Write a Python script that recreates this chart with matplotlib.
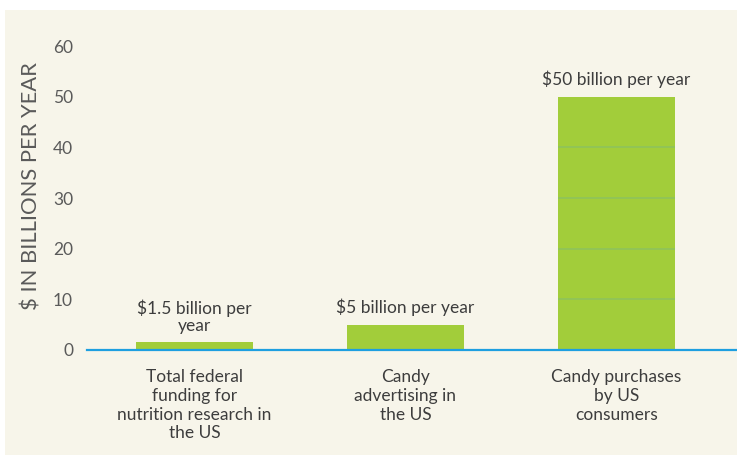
import matplotlib
matplotlib.use('Agg')
import matplotlib.pyplot as plt
from matplotlib.patches import Rectangle

# Data
categories = ['Total federal\nfunding for\nnutrition research in\nthe US',
              'Candy\nadvertising in\nthe US',
              'Candy purchases\nby US\nconsumers']
values = [1.5, 5, 50]
value_labels = ['$1.5 billion per\nyear', '$5 billion per year', '$50 billion per year']
y_ticks = [0, 10, 20, 30, 40, 50, 60]
grid_levels = [10, 20, 30, 40]

# Colors
cream = '#f7f5ea'
bar_green = '#a2cd3a'
grid_green = '#8cc25e'
axis_blue = '#1e9fe0'
text_grey = '#3d3d3d'
tick_grey = '#5a5a5a'

plt.rcParams['font.family'] = ['Lato', 'DejaVu Sans']

fig = plt.figure(figsize=(7.37, 4.55), dpi=100)
fig.patch.set_facecolor('white')
fig.patches.append(Rectangle((5 / 737, 0), 1, 1 - 10 / 455, transform=fig.transFigure,
                             facecolor=cream, edgecolor='none', zorder=-5))

ax = fig.add_axes([87 / 737, 1 - 350 / 455, 1 - 87 / 737, (350 - 46) / 455])
ax.set_facecolor('none')
ax.set_zorder(2)

x = list(range(len(categories)))
bar_width = 0.555
bars = ax.bar(x, values, width=bar_width, color=bar_green, zorder=2)

# faint lines across the bars only
for rect in bars:
    x0 = rect.get_x()
    x1 = x0 + rect.get_width()
    levels = [g for g in grid_levels if g < rect.get_height()]
    if levels:
        ax.hlines(levels, x0, x1, color=grid_green, linewidth=1.1, zorder=3)

for xi, v, lab in zip(x, values, value_labels):
    ax.annotate(lab, xy=(xi, v), xytext=(0, 6), textcoords='offset points',
                ha='center', va='bottom', fontsize=12.5, color=text_grey,
                linespacing=1.05)

ax.set_xlim(-0.509, 2.571)
ax.set_ylim(0, 60)
ax.set_yticks(y_ticks)
ax.set_yticklabels([str(t) for t in y_ticks], fontsize=12.5, color=tick_grey)
ax.set_xticks(x)
ax.set_xticklabels(categories, fontsize=12.5, color=text_grey, linespacing=1.2, va='top')
ax.tick_params(axis='both', length=0)
ax.tick_params(axis='y', pad=10)
ax.tick_params(axis='x', pad=14)

for side in ['top', 'right', 'left']:
    ax.spines[side].set_visible(False)
ax.spines['bottom'].set_color(axis_blue)
ax.spines['bottom'].set_linewidth(1.6)
ax.spines['bottom'].set_zorder(4)

fig.text(32 / 737, 1 - 186 / 455, '$ IN BILLIONS PER YEAR', rotation=90,
         ha='center', va='center', fontsize=15.8, color=tick_grey)

fig.savefig('out.png', dpi=100, facecolor=fig.get_facecolor())
